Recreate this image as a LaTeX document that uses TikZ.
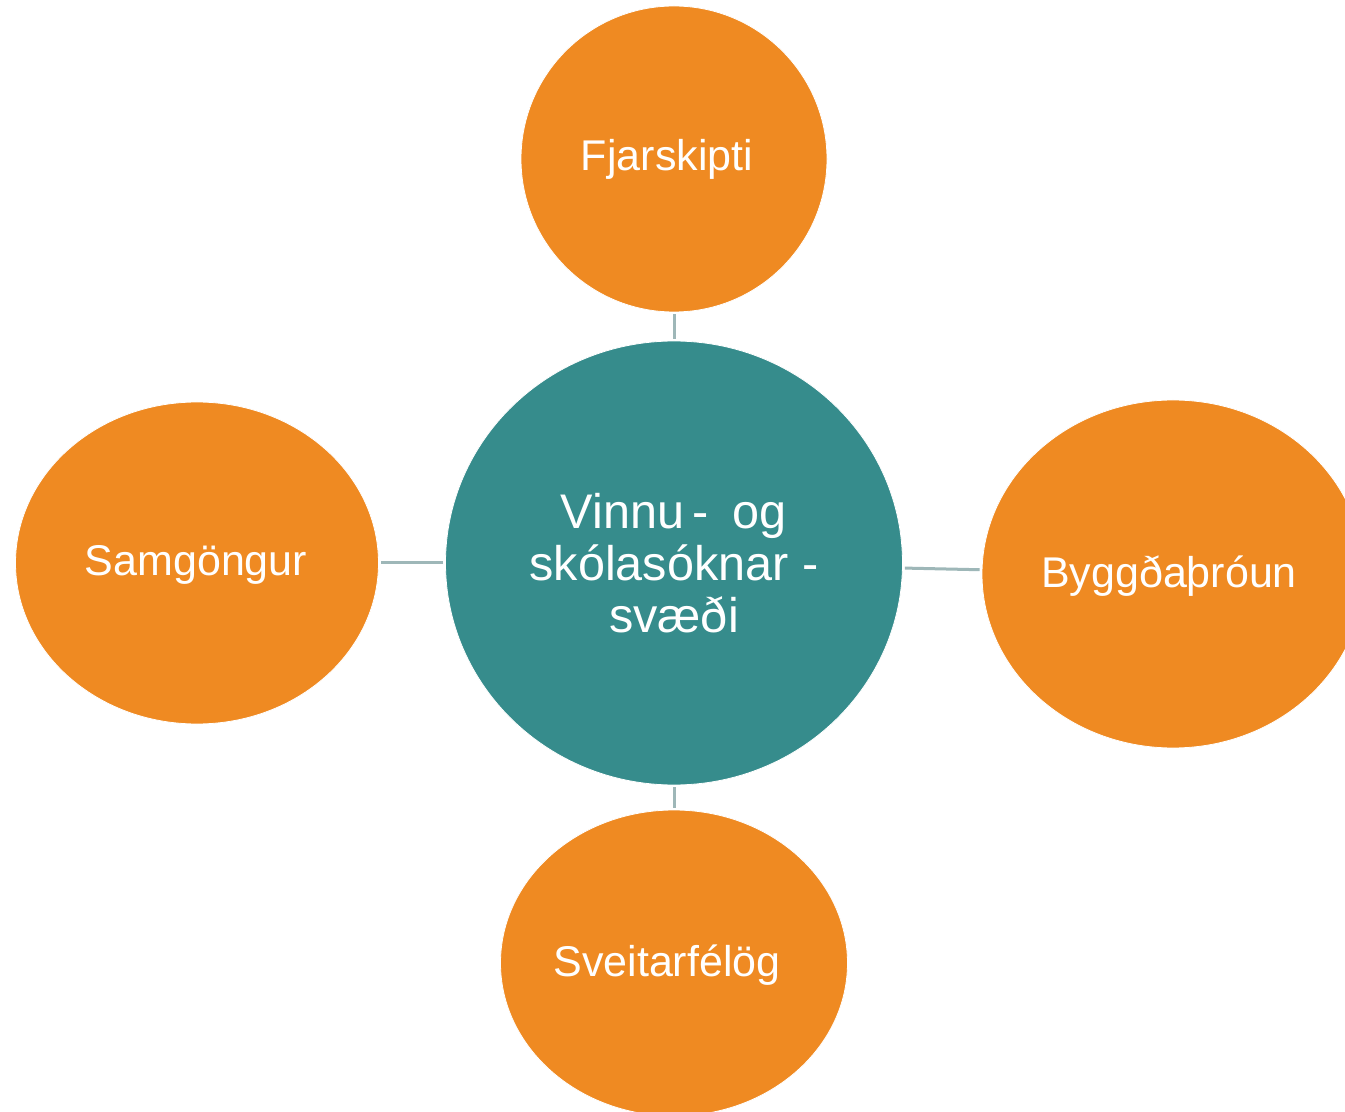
\documentclass[tikz,border=0pt]{standalone}
\usepackage{fontspec}
\setmainfont{Liberation Sans}
\usetikzlibrary{shapes.geometric}
\definecolor{hubteal}{HTML}{368C8C}
\definecolor{spokeorange}{HTML}{EF8A22}
\definecolor{linkgray}{HTML}{9EB7B8}
\begin{document}
\begin{tikzpicture}[x=0.5pt, y=-0.5pt, every node/.style={ellipse, inner sep=0pt, text=white, align=center, font=\fontsize{21.5}{26}\selectfont},
	hub/.style={fill=hubteal, draw=white, line width=.4pt, font=\fontsize{24.3}{26}\selectfont},
	spoke/.style={fill=spokeorange, draw=white, line width=.4pt},
	link/.style={draw=linkgray, line width=1.5pt, shorten >=1pt, shorten <=1pt}]
	\clip (0,0) rectangle (1345,1112);
	\fill[white] (0,0) rectangle (1345,1112);
	\node[hub, minimum width=228.5pt, minimum height=222pt] (svaedi) at (674, 563) {Vinnu\,-\enspace og\\skólasóknar -\\svæði};
	\node[spoke, minimum width=153pt, minimum height=153pt] (fjarskipti) at (674, 159) {};
	\node (fjarskiptiText) at (667, 159) {Fjarskipti};
	\node[spoke, minimum width=181.5pt, minimum height=161pt] (samgongur) at (197, 563) {};
	\node (samgongurText) at (196, 565) {Samgöngur};
	\node[spoke, minimum width=191pt, minimum height=174pt] (byggd) at (1173, 574) {};
	\node (byggdText) at (1169, 576) {Byggðaþróun};
	\node[spoke, minimum width=173.5pt, minimum height=153pt] (sveitar) at (674, 963) {};
	\node (sveitarText) at (667, 965) {Sveitarfélög};
	\draw[link] (svaedi) -- (fjarskipti);
	\draw[link] (svaedi) -- (samgongur);
	\draw[link] (svaedi) -- (byggd);
	\draw[link] (svaedi) -- (sveitar);
\end{tikzpicture}
\end{document}
